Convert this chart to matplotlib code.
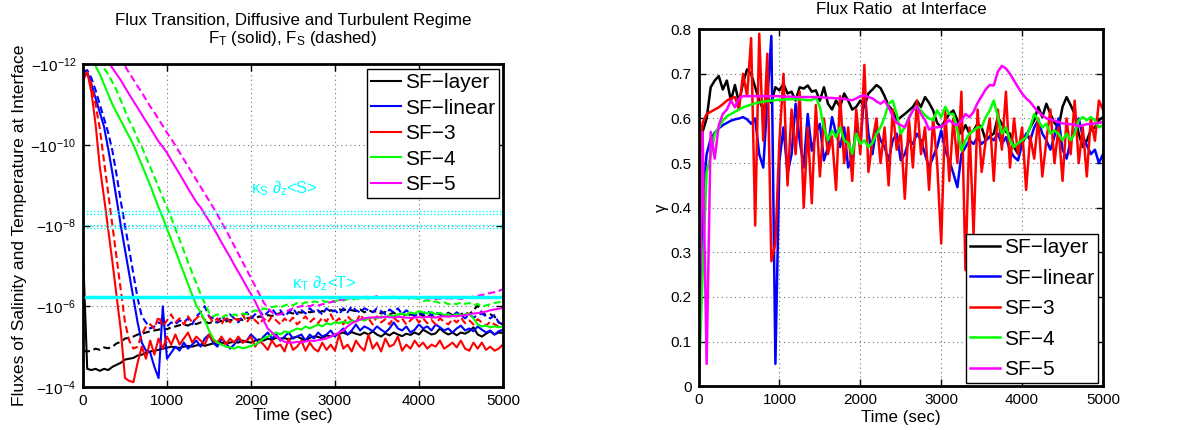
import numpy as np
import matplotlib
matplotlib.use("Agg")
import matplotlib.pyplot as plt
from matplotlib.ticker import FixedLocator, NullLocator, FixedFormatter

plt.rcParams["font.family"] = ["Liberation Sans", "DejaVu Sans"]
plt.rcParams["mathtext.fontset"] = "custom"
plt.rcParams["mathtext.rm"] = "Liberation Sans"
plt.rcParams["mathtext.it"] = "Liberation Sans"
plt.rcParams["mathtext.bf"] = "Liberation Sans:bold"

# time grid (sec), shared by every series
time_s = np.arange(0, 5001, 50)

# left panel: log10 |flux| at the interface, solid = F_T, dashed = F_S
ft_layer = [-7.30, -4.45, -4.42, -4.45, -4.40, -4.45, -4.42, -4.50, -4.55, -4.60,
            -4.68, -4.70, -4.72, -4.78, -4.80, -4.85, -4.88, -4.90, -4.92, -4.95,
            -4.97, -5.00, -4.98, -4.97, -5.00, -5.02, -5.00, -5.03, -5.05, -5.02,
            -5.05, -5.08, -5.05, -5.10, -5.08, -5.10, -5.12, -5.10, -5.15, -5.12,
            -5.10, -5.15, -5.18, -5.15, -5.20, -5.17, -5.22, -5.20, -5.21, -5.18,
            -5.22, -5.25, -5.20, -5.15, -5.22, -5.25, -5.24, -5.20, -5.28, -5.25,
            -5.30, -5.32, -5.35, -5.30, -5.36, -5.32, -5.29, -5.35, -5.30, -5.38,
            -5.30, -5.25, -5.33, -5.28, -5.35, -5.30, -5.26, -5.32, -5.29, -5.35,
            -5.30, -5.42, -5.36, -5.30, -5.33, -5.45, -5.36, -5.30, -5.35, -5.28,
            -5.35, -5.32, -5.38, -5.48, -5.30, -5.25, -5.32, -5.38, -5.30, -5.35,
            -5.34]
fs_layer = [-4.90, -4.88, -4.90, -4.95, -4.92, -4.98, -4.96, -5.00, -5.08, -5.12,
            -5.20, -5.22, -5.25, -5.30, -5.32, -5.35, -5.38, -5.40, -5.42, -5.45,
            -5.43, -5.48, -5.50, -5.53, -5.55, -5.52, -5.58, -5.56, -5.60, -5.62,
            -5.58, -5.62, -5.60, -5.64, -5.62, -5.66, -5.65, -5.68, -5.66, -5.70,
            -5.72, -5.70, -5.75, -5.72, -5.78, -5.76, -5.80, -5.83, -5.80, -5.85,
            -5.82, -5.86, -5.84, -5.88, -5.85, -5.87, -5.84, -5.88, -5.86, -5.90,
            -5.88, -5.92, -5.90, -5.93, -5.90, -5.88, -5.92, -5.85, -5.90, -5.86,
            -5.88, -5.82, -5.86, -5.80, -5.84, -5.78, -5.82, -5.75, -5.80, -5.78,
            -5.82, -5.76, -5.80, -5.72, -5.78, -5.82, -5.76, -5.84, -5.78, -5.75,
            -5.80, -5.85, -5.80, -5.90, -6.02, -5.85, -5.78, -5.80, -5.75, -5.60,
            -5.55]
ft_linear = [-11.70, -11.80, -11.50, -11.15, -10.80, -10.45, -9.90, -9.30, -8.65, -8.00,
             -7.40, -6.80, -6.20, -5.60, -5.10, -4.90, -4.85, -4.50, -4.22, -6.00,
             -4.70, -4.85, -5.00, -4.90, -5.10, -4.95, -5.05, -5.15, -5.00, -5.20,
             -5.30, -5.10, -5.00, -5.20, -5.10, -4.95, -5.05, -5.20, -5.10, -5.15,
             -5.30, -5.20, -5.10, -5.25, -5.35, -5.20, -5.30, -5.15, -5.25, -5.35,
             -5.20, -5.25, -5.30, -5.15, -5.30, -5.20, -5.35, -5.25, -5.30, -5.40,
             -5.25, -5.35, -5.45, -5.30, -5.40, -5.55, -5.40, -5.50, -5.45, -5.38,
             -5.50, -5.42, -5.35, -5.45, -5.60, -5.45, -5.40, -5.50, -5.35, -5.42,
             -5.55, -5.45, -5.50, -5.40, -5.55, -5.48, -5.40, -5.45, -5.35, -5.45,
             -5.52, -5.40, -5.45, -5.38, -5.50, -5.42, -5.35, -5.40, -5.30, -5.38,
             -5.42]
fs_linear = [-11.80, -11.85, -11.65, -11.35, -11.00, -10.65, -10.30, -9.85, -9.25, -8.60,
             -8.00, -7.40, -6.80, -6.20, -5.75, -5.60, -5.45, -5.50, -5.60, -5.55,
             -5.50, -5.60, -5.55, -5.65, -5.60, -5.70, -5.55, -5.75, -5.85, -6.00,
             -5.75, -5.70, -5.60, -5.75, -5.65, -5.80, -5.70, -5.60, -5.75, -5.85,
             -5.70, -5.80, -5.90, -5.75, -5.85, -5.95, -5.80, -5.90, -5.75, -5.85,
             -5.95, -5.80, -5.90, -5.82, -5.95, -5.85, -5.90, -5.80, -5.95, -5.85,
             -5.90, -5.80, -5.95, -5.85, -6.00, -5.90, -5.85, -5.95, -5.90, -5.85,
             -5.95, -5.88, -5.80, -5.92, -5.85, -5.95, -5.80, -5.90, -5.82, -5.75,
             -5.85, -5.80, -5.90, -5.78, -5.85, -5.80, -5.72, -5.82, -5.75, -5.85,
             -5.78, -5.70, -5.80, -5.72, -5.78, -5.82, -5.75, -5.70, -5.78, -5.60,
             -5.55]
ft_sf3 = [-11.60, -11.80, -11.30, -10.50, -9.45, -8.70, -7.90, -7.10, -6.25, -5.40,
          -4.22, -4.15, -4.12, -4.60, -5.00, -4.70, -5.15, -4.80, -5.20, -4.95,
          -5.25, -5.05, -5.30, -5.05, -5.20, -5.35, -5.10, -5.25, -5.15, -5.05,
          -5.30, -5.15, -5.10, -5.25, -5.05, -5.20, -5.10, -5.25, -5.10, -5.15,
          -5.25, -5.00, -5.15, -5.05, -4.92, -5.15, -5.00, -5.05, -4.88, -5.20,
          -4.92, -5.00, -5.15, -4.90, -5.10, -4.95, -4.88, -5.10, -4.92, -5.05,
          -4.90, -5.30, -4.95, -5.05, -4.88, -5.15, -5.00, -4.90, -5.30, -4.95,
          -5.10, -4.88, -5.20, -5.00, -5.05, -5.25, -4.90, -5.05, -4.95, -5.15,
          -5.00, -5.10, -4.95, -5.05, -5.00, -5.15, -4.95, -5.02, -5.10, -4.98,
          -5.15, -4.95, -4.90, -5.10, -4.95, -5.10, -4.92, -5.00, -4.90, -4.95,
          -5.05]
fs_sf3 = [-11.70, -11.75, -11.50, -11.00, -10.40, -9.60, -8.80, -8.00, -7.20, -6.40,
          -5.60, -5.15, -4.95, -5.00, -5.30, -5.50, -5.55, -5.45, -5.75, -5.50,
          -5.65, -5.80, -5.60, -5.70, -5.55, -5.75, -5.60, -5.70, -5.80, -5.65,
          -5.75, -5.60, -5.70, -5.55, -5.75, -5.60, -5.70, -5.65, -5.80, -5.60,
          -5.75, -5.65, -5.55, -5.70, -5.60, -5.75, -5.65, -5.55, -5.70, -5.60,
          -5.72, -5.55, -5.65, -5.75, -5.60, -5.70, -5.58, -5.72, -5.62, -5.80,
          -5.60, -5.70, -5.55, -5.75, -5.65, -5.60, -5.80, -5.65, -5.70, -5.55,
          -5.75, -5.60, -5.68, -5.55, -5.72, -5.62, -5.70, -5.55, -5.65, -5.75,
          -5.60, -5.70, -5.58, -5.66, -5.55, -5.70, -5.62, -5.55, -5.68, -5.60,
          -5.72, -5.58, -5.65, -5.55, -5.68, -5.60, -5.52, -5.62, -5.55, -5.50,
          -5.58]
ft_sf4 = [-12.50, -12.30, -12.10, -11.95, -11.75, -11.50, -11.25, -11.00, -10.80, -10.60,
          -10.40, -10.20, -10.00, -9.75, -9.50, -9.25, -9.00, -8.72, -8.45, -8.20,
          -7.92, -7.65, -7.38, -7.10, -6.83, -6.55, -6.28, -6.02, -5.85, -5.65,
          -5.40, -5.20, -5.10, -5.05, -5.00, -4.98, -4.95, -5.00, -4.96, -4.98,
          -5.02, -5.05, -5.12, -5.20, -5.25, -5.30, -5.35, -5.30, -5.38, -5.35,
          -5.40, -5.45, -5.42, -5.50, -5.45, -5.50, -5.55, -5.50, -5.58, -5.55,
          -5.60, -5.58, -5.62, -5.58, -5.65, -5.62, -5.68, -5.65, -5.70, -5.72,
          -5.70, -5.75, -5.72, -5.78, -5.75, -5.80, -5.82, -5.78, -5.85, -5.82,
          -5.88, -5.85, -5.82, -5.86, -5.80, -5.84, -5.78, -5.80, -5.76, -5.80,
          -5.78, -5.80, -5.82, -5.70, -5.55, -5.50, -5.52, -5.48, -5.50, -5.48,
          -5.50]
fs_sf4 = [-12.50, -12.40, -12.30, -12.15, -12.05, -11.90, -11.75, -11.55, -11.35, -11.10,
          -10.85, -10.60, -10.40, -10.15, -9.95, -9.70, -9.45, -9.20, -8.95, -8.70,
          -8.45, -8.20, -7.92, -7.65, -7.38, -7.10, -6.83, -6.57, -6.30, -6.07,
          -5.85, -5.75, -5.80, -5.72, -5.78, -5.75, -5.80, -5.76, -5.82, -5.80,
          -5.85, -5.90, -5.88, -5.95, -5.92, -5.98, -6.00, -5.97, -6.02, -6.05,
          -6.02, -6.08, -6.05, -6.10, -6.08, -6.12, -6.10, -6.14, -6.10, -6.15,
          -6.12, -6.16, -6.14, -6.18, -6.15, -6.20, -6.16, -6.22, -6.18, -6.20,
          -6.22, -6.18, -6.22, -6.20, -6.24, -6.20, -6.18, -6.22, -6.16, -6.20,
          -6.18, -6.12, -6.15, -6.10, -6.12, -6.08, -6.10, -6.05, -6.08, -6.05,
          -6.10, -6.06, -6.08, -6.02, -6.06, -5.98, -6.02, -6.05, -6.08, -6.10,
          -6.12]
ft_sf5 = [-13.00, -12.90, -12.75, -12.55, -12.40, -12.25, -12.05, -11.90, -11.75, -11.60,
          -11.42, -11.25, -11.08, -10.92, -10.75, -10.58, -10.42, -10.25, -10.08, -9.95,
          -9.80, -9.62, -9.45, -9.28, -9.10, -8.92, -8.75, -8.58, -8.45, -8.28,
          -8.12, -7.95, -7.77, -7.58, -7.40, -7.22, -7.03, -6.85, -6.67, -6.48,
          -6.30, -6.12, -5.90, -5.65, -5.45, -5.35, -5.25, -5.18, -5.12, -5.10,
          -5.10, -5.12, -5.10, -5.13, -5.15, -5.14, -5.16, -5.18, -5.20, -5.25,
          -5.30, -5.35, -5.40, -5.50, -5.58, -5.63, -5.67, -5.70, -5.72, -5.72,
          -5.73, -5.72, -5.74, -5.73, -5.72, -5.74, -5.73, -5.72, -5.71, -5.72,
          -5.73, -5.72, -5.74, -5.73, -5.72, -5.74, -5.75, -5.74, -5.76, -5.75,
          -5.77, -5.78, -5.80, -5.82, -5.83, -5.85, -5.87, -5.90, -5.92, -5.94,
          -5.96]
fs_sf5 = [-13.50, -13.40, -13.25, -13.10, -12.95, -12.80, -12.60, -12.45, -12.28, -12.10,
          -11.95, -11.78, -11.62, -11.45, -11.30, -11.12, -10.95, -10.80, -10.63, -10.47,
          -10.30, -10.15, -9.98, -9.81, -9.64, -9.47, -9.30, -9.13, -8.96, -8.79,
          -8.62, -8.45, -8.27, -8.08, -7.90, -7.70, -7.50, -7.30, -7.10, -6.90,
          -6.70, -6.50, -6.30, -6.10, -5.95, -5.85, -5.78, -5.80, -5.85, -5.90,
          -5.95, -5.98, -6.00, -6.02, -6.00, -6.04, -6.02, -6.05, -6.08, -6.10,
          -6.12, -6.15, -6.17, -6.18, -6.20, -6.22, -6.20, -6.23, -6.24, -6.22,
          -6.25, -6.23, -6.22, -6.24, -6.22, -6.23, -6.21, -6.22, -6.20, -6.22,
          -6.20, -6.21, -6.19, -6.20, -6.18, -6.19, -6.18, -6.20, -6.19, -6.20,
          -6.18, -6.20, -6.22, -6.24, -6.26, -6.28, -6.30, -6.33, -6.35, -6.38,
          -6.42]

# background diffusive fluxes, log10 |kappa d<.>/dz|
ks_dzs_levels = [-8.36, -8.29, -8.01, -7.94]
kt_dzt_level = -6.22

# right panel: flux ratio gamma
gamma_layer = [0.35, 0.57, 0.60, 0.67, 0.685, 0.695, 0.665, 0.685, 0.64, 0.675,
               0.635, 0.68, 0.71, 0.70, 0.67, 0.64, 0.62, 0.648, 0.635, 0.67,
               0.663, 0.678, 0.656, 0.66, 0.64, 0.67, 0.667, 0.674, 0.66, 0.663,
               0.64, 0.67, 0.633, 0.62, 0.64, 0.626, 0.656, 0.64, 0.62, 0.626,
               0.64, 0.626, 0.656, 0.665, 0.675, 0.668, 0.65, 0.628, 0.618, 0.596,
               0.603, 0.61, 0.618, 0.626, 0.64, 0.626, 0.648, 0.635, 0.618, 0.59,
               0.58, 0.596, 0.61, 0.618, 0.596, 0.566, 0.585, 0.566, 0.573, 0.588,
               0.58, 0.551, 0.56, 0.566, 0.603, 0.588, 0.57, 0.566, 0.536, 0.521,
               0.545, 0.56, 0.58, 0.596, 0.626, 0.603, 0.633, 0.61, 0.59, 0.58,
               0.626, 0.648, 0.63, 0.61, 0.566, 0.536, 0.55, 0.575, 0.58, 0.596,
               0.603]
gamma_linear = [0.0, 0.42, 0.52, 0.555, 0.568, 0.578, 0.585, 0.59, 0.595, 0.598,
                0.60, 0.603, 0.598, 0.588, 0.60, 0.52, 0.49, 0.64, 0.785, 0.05,
                0.505, 0.58, 0.477, 0.52, 0.633, 0.551, 0.49, 0.61, 0.528, 0.566,
                0.588, 0.506, 0.536, 0.603, 0.566, 0.536, 0.58, 0.49, 0.514, 0.58,
                0.536, 0.663, 0.566, 0.52, 0.58, 0.551, 0.536, 0.506, 0.551, 0.566,
                0.506, 0.52, 0.551, 0.543, 0.566, 0.551, 0.52, 0.49, 0.514, 0.536,
                0.573, 0.528, 0.506, 0.477, 0.446, 0.52, 0.536, 0.551, 0.543, 0.558,
                0.543, 0.551, 0.558, 0.551, 0.566, 0.543, 0.558, 0.528, 0.514, 0.506,
                0.543, 0.566, 0.551, 0.58, 0.596, 0.566, 0.551, 0.53, 0.56, 0.60,
                0.53, 0.51, 0.55, 0.57, 0.60, 0.56, 0.54, 0.52, 0.53, 0.50,
                0.52]
gamma_sf3 = [0.50, 0.59, 0.61, 0.615, 0.62, 0.625, 0.632, 0.64, 0.645, 0.648,
             0.62, 0.70, 0.65, 0.78, 0.36, 0.79, 0.55, 0.745, 0.28, 0.32,
             0.55, 0.70, 0.45, 0.62, 0.52, 0.66, 0.40, 0.58, 0.41, 0.63,
             0.47, 0.60, 0.52, 0.56, 0.44, 0.65, 0.50, 0.58, 0.46, 0.62,
             0.52, 0.72, 0.48, 0.55, 0.60, 0.50, 0.58, 0.45, 0.62, 0.53,
             0.57, 0.42, 0.60, 0.49, 0.64, 0.52, 0.58, 0.44, 0.60, 0.50,
             0.32, 0.62, 0.46, 0.60, 0.50, 0.66, 0.26, 0.58, 0.34, 0.62,
             0.48, 0.55, 0.60, 0.46, 0.62, 0.53, 0.66, 0.49, 0.60, 0.52,
             0.58, 0.44, 0.56, 0.51, 0.60, 0.47, 0.55, 0.62, 0.50, 0.58,
             0.46, 0.60, 0.52, 0.64, 0.50, 0.58, 0.47, 0.60, 0.55, 0.64,
             0.62]
gamma_sf4 = [0.0, 0.25, 0.48, 0.515, 0.565, 0.58, 0.595, 0.605, 0.61, 0.615,
             0.62, 0.625, 0.628, 0.631, 0.634, 0.636, 0.638, 0.639, 0.64, 0.641,
             0.642, 0.642, 0.643, 0.643, 0.643, 0.643, 0.642, 0.641, 0.641, 0.648,
             0.625, 0.58, 0.551, 0.573, 0.558, 0.58, 0.551, 0.545, 0.521, 0.566,
             0.543, 0.551, 0.536, 0.545, 0.566, 0.58, 0.603, 0.633, 0.64, 0.61,
             0.566, 0.58, 0.603, 0.618, 0.626, 0.618, 0.607, 0.60, 0.596, 0.618,
             0.603, 0.626, 0.61, 0.61, 0.573, 0.528, 0.551, 0.566, 0.573, 0.58,
             0.58, 0.603, 0.618, 0.64, 0.603, 0.566, 0.58, 0.551, 0.536, 0.545,
             0.551, 0.558, 0.58, 0.61, 0.596, 0.58, 0.588, 0.566, 0.573, 0.566,
             0.551, 0.566, 0.551, 0.566, 0.596, 0.603, 0.596, 0.603, 0.596, 0.58,
             0.585]
gamma_sf5 = [0.0, 0.57, 0.05, 0.57, 0.51, 0.585, 0.61, 0.62, 0.64, 0.625,
             0.645, 0.65, 0.65, 0.65, 0.65, 0.65, 0.65, 0.65, 0.65, 0.65,
             0.65, 0.649, 0.649, 0.649, 0.648, 0.648, 0.648, 0.648, 0.648, 0.648,
             0.648, 0.647, 0.646, 0.646, 0.645, 0.645, 0.644, 0.642, 0.641, 0.645,
             0.65, 0.652, 0.648, 0.645, 0.638, 0.633, 0.64, 0.625, 0.605, 0.59,
             0.585, 0.58, 0.60, 0.618, 0.626, 0.61, 0.596, 0.575, 0.58, 0.58,
             0.582, 0.588, 0.596, 0.588, 0.585, 0.595, 0.61, 0.603, 0.615, 0.635,
             0.65, 0.665, 0.675, 0.674, 0.705, 0.718, 0.712, 0.70, 0.685, 0.67,
             0.656, 0.645, 0.637, 0.625, 0.615, 0.607, 0.60, 0.598, 0.595, 0.592,
             0.589, 0.588, 0.587, 0.586, 0.582, 0.585, 0.587, 0.588, 0.589, 0.59,
             0.592]

labels = ["SF\u2212layer", "SF\u2212linear", "SF\u22123", "SF\u22124", "SF\u22125"]
colors = ["black", "#0000ff", "#ff0000", "#00ff00", "#ff00ff"]
ft_all = [ft_layer, ft_linear, ft_sf3, ft_sf4, ft_sf5]
fs_all = [fs_layer, fs_linear, fs_sf3, fs_sf4, fs_sf5]
gamma_all = [gamma_layer, gamma_linear, gamma_sf3, gamma_sf4, gamma_sf5]

for s in ft_all + fs_all + gamma_all:
    assert len(s) == len(time_s)

CYAN = "#00ffff"
TXT = 12.2   # titles / axis labels


def matlab_axes(ax):
    for sp in ax.spines.values():
        sp.set_linewidth(2)
    ax.tick_params(direction="in", top=True, right=True, length=5, width=1,
                   labelsize=11, pad=5)
    ax.grid(True, which="major", linestyle=(0, (1, 3)), color="0.45", lw=0.8)


def matlab_legend(ax, anchor, spacing, handles=None):
    kw = {} if handles is None else {"handles": handles}
    leg = ax.legend(loc="upper right", bbox_to_anchor=anchor,
                    bbox_transform=fig.transFigure, fontsize=15, fancybox=False,
                    edgecolor="black", framealpha=1, borderpad=0.2,
                    handlelength=1.4, handletextpad=0.2, labelspacing=spacing,
                    borderaxespad=0, **kw)
    leg.get_frame().set_linewidth(1)
    return leg


fig = plt.figure(figsize=(11.86, 4.30), dpi=100)

# ---- left: fluxes
ax1 = fig.add_axes([0.070, 0.100, 0.354, 0.751])
handles = []
for ft, fs, c, lab in zip(ft_all, fs_all, colors, labels):
    h, = ax1.plot(time_s, 10.0 ** np.array(ft), color=c, lw=1.5, label=lab)
    ax1.plot(time_s, 10.0 ** np.array(fs), color=c, lw=1.5, dashes=(3.4, 1.8))
    handles.append(h)
for lev in ks_dzs_levels:
    ax1.axhline(10.0 ** lev, color=CYAN, lw=1, linestyle=(0, (1, 1.5)))
ax1.axhline(10.0 ** kt_dzt_level, color=CYAN, lw=2.5)
ax1.text(2000, 10.0 ** -8.92, r"$\kappa_S\ \partial_z$<S>", color=CYAN,
         fontsize=12, va="center", ha="left")
ax1.text(2490, 10.0 ** -6.58, r"$\kappa_T\ \partial_z$<T>", color=CYAN,
         fontsize=12, va="center", ha="left")

ax1.set_yscale("log")
ax1.set_xlim(0, 5000)
ax1.set_ylim(1e-4, 1e-12)
yt = [1e-12, 1e-10, 1e-8, 1e-6, 1e-4]
ax1.yaxis.set_major_locator(FixedLocator(yt))
ax1.yaxis.set_major_formatter(FixedFormatter(
    [r"$-10^{%d}$" % int(round(np.log10(v))) for v in yt]))
ax1.yaxis.set_minor_locator(NullLocator())
ax1.set_xticks([0, 1000, 2000, 3000, 4000, 5000])
matlab_axes(ax1)
ax1.set_xlabel("Time (sec)", fontsize=TXT)
ax1.xaxis.set_label_coords(0.5, -0.065)
ax1.set_ylabel("Fluxes of Salinity and Temperature at Interface", fontsize=12.6)
ax1.yaxis.set_label_coords(-0.133, 0.5)
fig.text(0.247, 1 - 21 / 430, "Flux Transition, Diffusive and Turbulent Regime",
         ha="center", va="center", fontsize=TXT)
fig.text(0.247, 1 - 38 / 430, r"$F_T$ (solid), $F_S$ (dashed)",
         ha="center", va="center", fontsize=TXT)
matlab_legend(ax1, (499 / 1186, 1 - 69 / 430), 0.31, handles)

# ---- right: flux ratio
ax2 = fig.add_axes([0.589, 0.102, 0.341, 0.830])
for g, c, lab in zip(gamma_all, colors, labels):
    ax2.plot(time_s, g, color=c, lw=1.8, label=lab)
ax2.set_xlim(0, 5000)
ax2.set_ylim(0, 0.8)
gt = [0, 0.1, 0.2, 0.3, 0.4, 0.5, 0.6, 0.7, 0.8]
ax2.yaxis.set_major_locator(FixedLocator(gt))
ax2.yaxis.set_major_formatter(FixedFormatter(["0"] + ["%.1f" % v for v in gt[1:]]))
ax2.set_xticks([0, 1000, 2000, 3000, 4000, 5000])
matlab_axes(ax2)
ax2.set_xlabel("Time (sec)", fontsize=TXT)
ax2.xaxis.set_label_coords(0.5, -0.067)
ax2.set_ylabel("\u03b3", fontsize=TXT)
ax2.yaxis.set_label_coords(-0.073, 0.5)
fig.text(901 / 1186, 1 - 10 / 430, "Flux Ratio  at Interface",
         ha="center", va="center", fontsize=TXT)
matlab_legend(ax2, (1098 / 1186, 1 - 234 / 430), 0.55)

fig.savefig("out.png", dpi=100)
